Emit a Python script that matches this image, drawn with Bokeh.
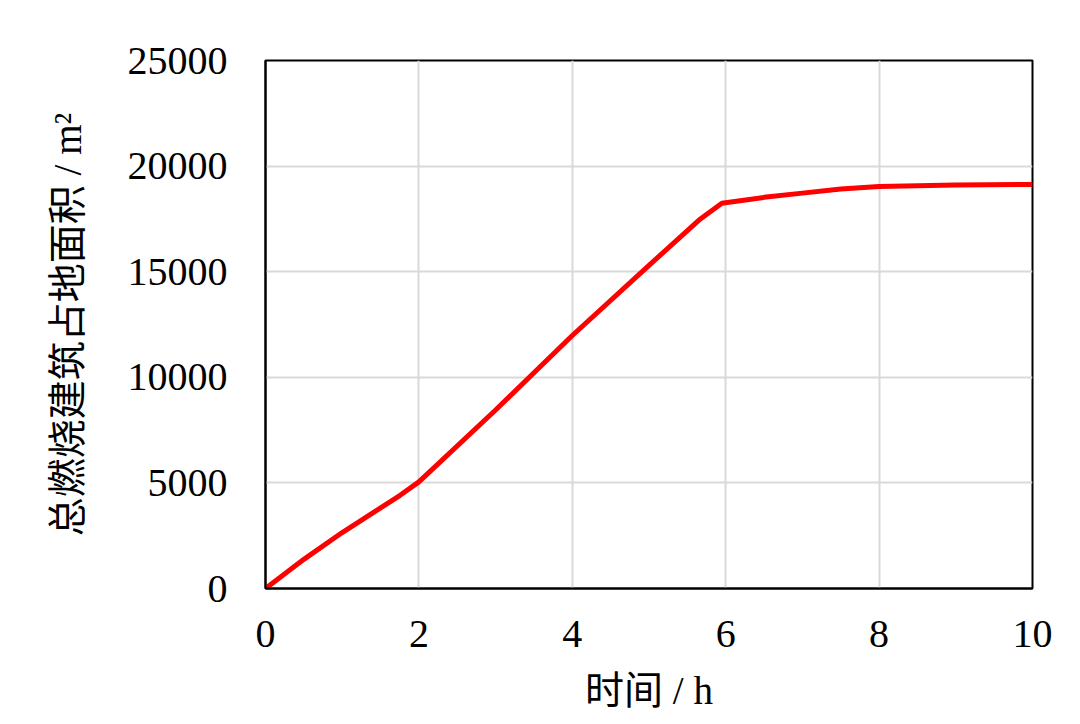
from bokeh.plotting import figure
from bokeh.models import Range1d, FixedTicker
from bokeh.embed import file_html
from bokeh.resources import INLINE

# data
time_h = [0, 0.5, 1.0, 1.75, 2.0, 3.0, 4.0, 5.0, 5.67, 5.95, 6.5, 7.0, 7.5, 8.0, 9.0, 10.0]
area_m2 = [0, 1380, 2650, 4400, 5050, 8450, 11980, 15300, 17500, 18240, 18520, 18720, 18920, 19030, 19100, 19130]
x_ticks = [0, 2, 4, 6, 8, 10]
y_ticks = [0, 5000, 10000, 15000, 20000, 25000]

FONT = "'Liberation Serif', 'Times New Roman', 'Noto Sans CJK SC'"

p = figure(width=1064, height=724, output_backend="svg", toolbar_location=None,
           x_range=Range1d(0, 10), y_range=Range1d(0, 25000),
           min_border_left=265, min_border_right=32, min_border_top=60, min_border_bottom=136)

p.line(time_h, area_m2, line_color="#ff0000", line_width=5)

p.xaxis.ticker = FixedTicker(ticks=x_ticks)
p.yaxis.ticker = FixedTicker(ticks=y_ticks)
p.xaxis.axis_label = "时间 / h"
p.yaxis.axis_label = "总燃烧建筑占地面积 / m²"

for ax in (p.xaxis[0], p.yaxis[0]):
    ax.major_label_text_font = FONT
    ax.major_label_text_font_size = "40px"
    ax.major_label_text_color = "black"
    ax.axis_label_text_font = FONT
    ax.axis_label_text_font_size = "39px"
    ax.axis_label_text_font_style = "normal"
    ax.axis_label_text_color = "black"
    ax.axis_line_color = "black"
    ax.axis_line_width = 2
    ax.major_tick_line_color = None
    ax.minor_tick_line_color = None

p.xaxis.major_label_standoff = 26
p.xaxis.axis_label_standoff = 19
p.yaxis.major_label_standoff = 32
p.yaxis.axis_label_standoff = 36

p.xgrid.grid_line_color = "#d9d9d9"
p.ygrid.grid_line_color = "#d9d9d9"
p.xgrid.grid_line_width = 2
p.ygrid.grid_line_width = 2

p.outline_line_color = "black"
p.outline_line_width = 2
p.background_fill_color = "white"
p.border_fill_color = "white"

open("out.html", "w").write(file_html(p, INLINE))
